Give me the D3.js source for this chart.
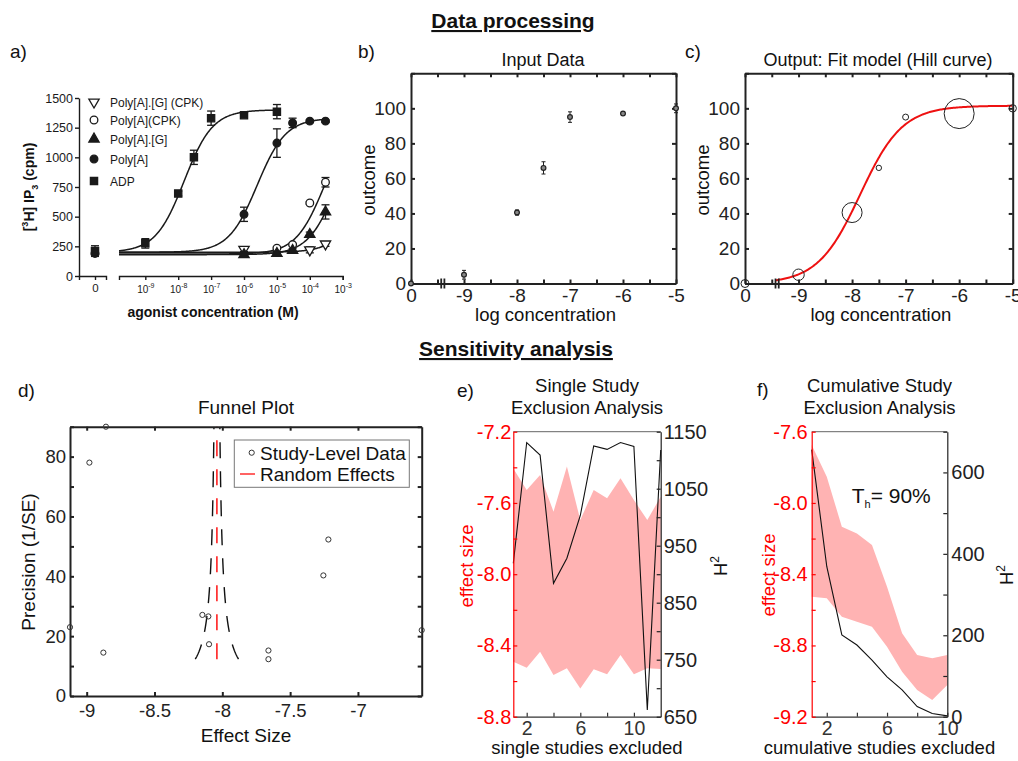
<!DOCTYPE html>
<html>
<head>
<meta charset="utf-8">
<script src="https://cdn.jsdelivr.net/npm/d3@7"></script>
<style>
  body { margin: 0; background: #fff; }
  text { font-family: "Liberation Sans", Arial, Helvetica, sans-serif; }
</style>
</head>
<body>
<svg id="fig" width="1018" height="761"></svg>
<script>
// ---------- panel a: [3H] IP3 (cpm) vs agonist concentration ----------
var adpConc = [0, 1e-9, 1e-8, 3e-8, 1e-7, 1e-6, 1e-5];
var adpCpm = [210, 275, 695, 1000, 1330, 1355, 1385];
var adpErr = [45, 40, 20, 60, 60, 15, 60];
var polyAConc = [0, 1e-6, 1e-5, 3e-5, 1e-4, 3e-4];
var polyACpm = [190, 520, 1120, 1290, 1305, 1305];
var polyAErr = [0, 60, 120, 40, 10, 10];
var polyAGConc = [1e-6, 1e-5, 3e-5, 1e-4, 3e-4];
var polyAGCpm = [180, 190, 215, 350, 540];
var polyAGErr = [15, 15, 15, 20, 60];
var polyACpkConc = [1e-5, 3e-5, 1e-4, 3e-4];
var polyACpkCpm = [235, 265, 615, 790];
var polyACpkErr = [10, 10, 10, 40];
var polyAGCpkConc = [1e-6, 1e-4, 3e-4];
var polyAGCpkCpm = [225, 220, 270];
var polyAGCpkErr = [20, 25, 20];
var aLegend = ["Poly[A].[G] (CPK)", "Poly[A](CPK)", "Poly[A].[G]", "Poly[A]", "ADP"];
// fitted Hill curves: bottom, top, logEC50, last log conc
var aCurveBottom = [200, 185, 180, 200, 200];
var aCurveTop = [1330, 1330, 1330, 1330, 1400];
var aCurveLogEC50 = [-2.27, -3.56, -3.18, -5.6, -7.82];
var aCurveEnd = [-3.52, -3.52, -3.52, -3.52, -5];
var aYTicks = [0, 250, 500, 750, 1000, 1250, 1500];
var aXTicks = [1e-9, 1e-8, 1e-7, 1e-6, 1e-5, 1e-4, 1e-3];

// ---------- panels b, c: input data and Hill fit ----------
var logConc = [0, -9, -8, -7.5, -7, -6, -5];   // 0 = zero concentration
var outcome = [0, 5, 40.5, 66, 95, 97, 100];
var outcomeErr = [0.8, 2.5, 1.5, 3.5, 3, 1, 2.5];
var fitRadius = [4, 5.7, 10, 2.7, 3, 15, 3.7];   // circle size = study weight
var hillTop = 101.5, hillLogEC50 = -7.85, hillSlope = 1.1;
var bcXTicks = [-10, -9.5, -9, -8.5, -8, -7.5, -7, -6.5, -6, -5.5, -5];
var bcYTicks = [0, 20, 40, 60, 80, 100, 120];

// ---------- panel d: funnel plot ----------
var dEffect = [-8.858, -8.98, -9.123, -8.877, -8.147, -8.103, -8.098, -7.66, -7.66, -7.255, -7.218, -6.53];
var dPrecision = [90, 78, 23, 14.5, 27.1, 26.6, 17.3, 15.2, 12.3, 40.3, 52.3, 22];
var randomEffect = -8.04;
var funnelPrecision = [12.3, 90];
var dXTicks = [-9, -8.5, -8, -7.5, -7];
var dYTicks = [0, 10, 20, 30, 40, 50, 60, 70, 80, 90];

// ---------- panel e: single study exclusion ----------
var eExcluded = [1, 2, 3, 4, 5, 6, 7, 8, 9, 10, 11, 12];
var eUpper = [-7.406, -7.527, -7.443, -7.649, -7.396, -7.696, -7.527, -7.574, -7.462, -7.584, -7.696, -7.565];
var eLower = [-8.491, -8.525, -8.435, -8.566, -8.528, -8.641, -8.534, -8.562, -8.454, -8.562, -8.528, -8.532];
var eH2 = [919, 1131, 1109, 884, 928, 1003, 1125, 1119, 1131, 1124, 662, 1118];
var eLeftTicks = [-8.8, -8.6, -8.4, -8.2, -8.0, -7.8, -7.6, -7.4, -7.2];
var eRightTicks = [650, 700, 750, 800, 850, 900, 950, 1000, 1050, 1100, 1150];

// ---------- panel f: cumulative study exclusion ----------
var fExcluded = [1, 2, 3, 4, 5, 6, 7, 8, 9, 10];
var fUpper = [-7.675, -7.853, -8.133, -8.171, -8.236, -8.47, -8.732, -8.854, -8.872, -8.854];
var fLower = [-8.526, -8.535, -8.639, -8.667, -8.695, -8.807, -8.947, -9.05, -9.106, -9.022];
var fH2 = [656, 369, 201, 176, 139, 98, 66, 25, 8, 2];
var fLeftTicks = [-9.2, -9.0, -8.8, -8.6, -8.4, -8.2, -8.0, -7.8, -7.6];
var fRightTicks = [0, 100, 200, 300, 400, 500, 600, 700];
var xTicksEF = [2, 4, 6, 8, 10];

var svg = d3.select("#fig");
var pink = "rgb(255,179,179)";

function hill(l, bottom, top, ec50, slope) {
  return bottom + (top - bottom) / (1 + Math.pow(10, slope * (ec50 - l)));
}

function styleAxis(g, color, size, width) {
  g.attr("font-size", size).attr("font-family", null);
  g.selectAll("path, line").attr("stroke", color).attr("stroke-width", width);
  g.selectAll("text").attr("fill", color);
  return g;
}

function label(x, y, str, size, opts) {
  opts = opts || {};
  var t = svg.append("text")
    .attr("x", x).attr("y", y)
    .attr("font-size", size)
    .attr("text-anchor", opts.anchor || "start")
    .attr("fill", opts.color || "#111")
    .attr("font-weight", opts.bold ? "bold" : null)
    .text(str);
  if (opts.rotate) {
    t.attr("x", 0).attr("y", 0).attr("transform", "translate(" + x + "," + y + ") rotate(-90)");
  }
  return t;
}

// headings
label(513, 28, "Data processing", 21, { anchor: "middle", bold: true }).style("text-decoration", "underline");
label(516, 356, "Sensitivity analysis", 21, { anchor: "middle", bold: true }).style("text-decoration", "underline");

// panel letters
label(10, 58, "a)", 19);
label(358, 58, "b)", 19);
label(685, 58, "c)", 19);
label(18, 397, "d)", 19);
label(457, 397, "e)", 19);
label(757, 396, "f)", 19);

// ================= panel a =================
(function () {
  var y = d3.scaleLinear().domain([0, 1500]).range([276, 98]);
  var x = d3.scaleLog().domain([Math.pow(10, -9.8), 1e-3]).range([119, 342.7]);
  var xZero = d3.scaleLinear().domain([-16, 11]).range([79, 106]);
  var pos = function (c) { return c === 0 ? xZero(0) : x(c); };
  var ink = "#1a1a1a";

  styleAxis(svg.append("g").attr("transform", "translate(79,0)")
    .call(d3.axisLeft(y).tickValues(aYTicks).tickFormat(String).tickSize(4).tickSizeOuter(0).tickPadding(2)), ink, 12.5, 1.4);

  styleAxis(svg.append("g").attr("transform", "translate(0,276)")
    .call(d3.axisBottom(xZero).tickValues([0]).tickFormat(String).tickSize(4).tickSizeOuter(4).tickPadding(4)), ink, 11.5, 1.4);

  var gx = svg.append("g").attr("transform", "translate(0,276)")
    .call(d3.axisBottom(x).tickValues(aXTicks).tickSize(4).tickSizeOuter(4).tickFormat(function () { return ""; }));
  gx.selectAll(".tick").each(function (d) {
    var t = d3.select(this).append("text").attr("y", 17).attr("text-anchor", "middle");
    t.append("tspan").attr("font-size", 10).text("10");
    t.append("tspan").attr("font-size", 7).attr("dy", -5).text(Math.round(Math.log10(d)));
  });
  styleAxis(gx, ink, 10, 1.4);

  label(213, 317, "agonist concentration (M)", 14, { anchor: "middle", bold: true });
  var yl = label(34, 187, "", 14, { anchor: "middle", bold: true, rotate: true });
  yl.append("tspan").text("[");
  yl.append("tspan").attr("font-size", 9).attr("dy", -6).text("3");
  yl.append("tspan").attr("dy", 6).text("H] IP");
  yl.append("tspan").attr("font-size", 9).attr("dy", 4).text("3");
  yl.append("tspan").attr("dy", -4).text(" (cpm)");

  // fitted curves
  var line = d3.line().x(function (d) { return x(d[0]); }).y(function (d) { return y(d[1]); });
  aCurveEnd.forEach(function (end, i) {
    var pts = d3.range(-9.8, end + 0.001, 0.02).map(function (l) {
      return [Math.pow(10, l), hill(l, aCurveBottom[i], aCurveTop[i], aCurveLogEC50[i], 1)];
    });
    svg.append("path").datum(pts).attr("d", line)
      .attr("fill", "none").attr("stroke", ink).attr("stroke-width", 1.5);
  });

  var series = [
    { conc: polyAGCpkConc, cpm: polyAGCpkCpm, err: polyAGCpkErr, sym: d3.symbolTriangle, rot: 180, fill: "#fff" },
    { conc: polyACpkConc, cpm: polyACpkCpm, err: polyACpkErr, sym: d3.symbolCircle, rot: 0, fill: "#fff" },
    { conc: polyAGConc, cpm: polyAGCpm, err: polyAGErr, sym: d3.symbolTriangle, rot: 0, fill: ink },
    { conc: polyAConc, cpm: polyACpm, err: polyAErr, sym: d3.symbolCircle, rot: 0, fill: ink },
    { conc: adpConc, cpm: adpCpm, err: adpErr, sym: d3.symbolSquare, rot: 0, fill: ink }
  ];
  var legendY = [102, 120, 139, 159, 181];
  series.forEach(function (s, i) {
    var g = svg.append("g");
    s.conc.forEach(function (c, j) {
      var cx = pos(c), e = s.err[j];
      if (e > 0) {
        g.append("line").attr("x1", cx).attr("x2", cx).attr("y1", y(s.cpm[j] - e)).attr("y2", y(s.cpm[j] + e))
          .attr("stroke", ink).attr("stroke-width", 1.3);
        [s.cpm[j] - e, s.cpm[j] + e].forEach(function (v) {
          g.append("line").attr("x1", cx - 4).attr("x2", cx + 4).attr("y1", y(v)).attr("y2", y(v))
            .attr("stroke", ink).attr("stroke-width", 1.3);
        });
      }
    });
    var sym = d3.symbol().type(s.sym).size(s.sym === d3.symbolSquare ? 52 : 46);
    g.selectAll("path.m").data(s.conc).enter().append("path")
      .attr("d", sym)
      .attr("transform", function (c, j) { return "translate(" + pos(c) + "," + y(s.cpm[j]) + ") rotate(" + s.rot + ")"; })
      .attr("fill", s.fill).attr("stroke", ink).attr("stroke-width", 1.3);
    // legend entry
    svg.append("path").attr("d", sym)
      .attr("transform", "translate(94," + legendY[i] + ") rotate(" + s.rot + ")")
      .attr("fill", s.fill).attr("stroke", ink).attr("stroke-width", 1.3);
    label(110, legendY[i] + 4.5, aLegend[i], 12, { color: ink });
  });
})();

// ================= panels b and c =================
function dosePanel(left, right, title, titleX, fit) {
  var x = d3.scaleLinear().domain([-10, -5]).range([left, right]);
  var y = d3.scaleLinear().domain([0, 120]).range([283.5, 73.3]);
  var px = function (l) { return l === 0 ? x(-10) : x(l); };
  var fmtX = function (d) { return Number.isInteger(d) ? (d === -10 ? "0" : String(d)) : ""; };
  var fmtY = function (d) { return d === 120 ? "" : String(d); };

  if (fit) {
    var pts = d3.range(-9.43, -4.999, 0.02).map(function (l) { return [l, hill(l, 0, hillTop, hillLogEC50, hillSlope)]; });
    svg.append("path").datum(pts)
      .attr("d", d3.line().x(function (d) { return x(d[0]); }).y(function (d) { return y(d[1]); }))
      .attr("fill", "none").attr("stroke", "#ee1111").attr("stroke-width", 2);
  }

  var ax = [
    [d3.axisBottom(x).tickValues(bcXTicks).tickFormat(fmtX).tickPadding(5), "translate(0," + y(0) + ")"],
    [d3.axisTop(x).tickValues(bcXTicks).tickFormat(""), "translate(0," + y(120) + ")"],
    [d3.axisLeft(y).tickValues(bcYTicks).tickFormat(fmtY).tickPadding(5), "translate(" + left + ",0)"],
    [d3.axisRight(y).tickValues(bcYTicks).tickFormat(""), "translate(" + right + ",0)"]
  ];
  ax.forEach(function (a) {
    var g = svg.append("g").attr("transform", a[1]).call(a[0].tickSize(-4).tickSizeOuter(0));
    styleAxis(g, "#222", 19, 2);
  });

  // axis break marks
  [-9.43, -9.37].forEach(function (l) {
    svg.append("line").attr("x1", x(l)).attr("x2", x(l)).attr("y1", y(0) - 5).attr("y2", y(0) + 5)
      .attr("stroke", "#222").attr("stroke-width", 1.8);
  });

  if (fit) {
    svg.selectAll(null).data(logConc).enter().append("circle")
      .attr("cx", px).attr("cy", function (d, i) { return y(outcome[i]); })
      .attr("r", function (d, i) { return fitRadius[i]; })
      .attr("fill", "none").attr("stroke", "#222").attr("stroke-width", 1);
  } else {
    logConc.forEach(function (l, i) {
      var cx = px(l);
      var r = [outcome[i] - outcomeErr[i], outcome[i] + outcomeErr[i]];
      svg.append("line").attr("x1", cx).attr("x2", cx).attr("y1", y(r[0])).attr("y2", y(r[1]))
        .attr("stroke", "#222").attr("stroke-width", 1);
      r.forEach(function (v) {
        svg.append("line").attr("x1", cx - 2).attr("x2", cx + 2).attr("y1", y(v)).attr("y2", y(v))
          .attr("stroke", "#222").attr("stroke-width", 1);
      });
      svg.append("circle").attr("cx", cx).attr("cy", y(outcome[i])).attr("r", 2.4)
        .attr("fill", "#888").attr("stroke", "#222").attr("stroke-width", 1.2);
    });
  }

  label(titleX, 66, title, 18, { anchor: "middle" });
  label((left + right) / 2 + 2, 321, "log concentration", 18.5, { anchor: "middle" });
  label(left - 36, 180, "outcome", 18.5, { anchor: "middle", rotate: true });
}
dosePanel(411, 676, "Input Data", 543, false);
dosePanel(745, 1012.7, "Output: Fit model (Hill curve)", 878, true);

// ================= panel d =================
(function () {
  var x = d3.scaleLinear().domain([-9.123, -6.53]).range([70, 421.7]);
  var y = d3.scaleLinear().domain([0, 90]).range([696, 426.7]);
  var fmtY = function (d) { return d % 20 === 0 && d < 90 ? String(d) : ""; };

  // funnel limits and pooled estimate (dashed)
  var pLevels = d3.range(funnelPrecision[0], funnelPrecision[1] + 0.01, 0.5);
  var fl = d3.line().x(function (d) { return x(d[0]); }).y(function (d) { return y(d[1]); });
  [-1.96, 1.96].forEach(function (z) {
    svg.append("path").datum(pLevels.map(function (p) { return [randomEffect + z / p, p]; }))
      .attr("d", fl).attr("fill", "none").attr("stroke", "#111").attr("stroke-width", 1.4)
      .attr("stroke-dasharray", "16,13");
  });
  svg.append("path").datum([[randomEffect, funnelPrecision[0]], [randomEffect, funnelPrecision[1]]])
    .attr("d", fl).attr("stroke", "#ff2020").attr("stroke-width", 1.6).attr("stroke-dasharray", "16,13");

  var ax = [
    [d3.axisBottom(x).tickValues(dXTicks).tickFormat(String).tickPadding(8), "translate(0,696)"],
    [d3.axisTop(x).tickValues(dXTicks).tickFormat(""), "translate(0,426.7)"],
    [d3.axisLeft(y).tickValues(dYTicks).tickFormat(fmtY).tickPadding(4), "translate(70,0)"],
    [d3.axisRight(y).tickValues(dYTicks).tickFormat(""), "translate(421.7,0)"]
  ];
  ax.forEach(function (a) {
    var g = svg.append("g").attr("transform", a[1]).call(a[0].tickSize(-4).tickSizeOuter(0));
    styleAxis(g, "#222", 18.5, 2);
  });

  svg.selectAll(null).data(dEffect).enter().append("circle")
    .attr("cx", function (d) { return x(d); })
    .attr("cy", function (d, i) { return y(dPrecision[i]); })
    .attr("r", 2.6).attr("fill", "none").attr("stroke", "#333").attr("stroke-width", 1);

  // legend
  svg.append("rect").attr("x", 234.3).attr("y", 440).attr("width", 175).attr("height", 47.3)
    .attr("fill", "#fff").attr("stroke", "#777").attr("stroke-width", 1);
  svg.append("circle").attr("cx", 251.7).attr("cy", 452.7).attr("r", 2.6)
    .attr("fill", "none").attr("stroke", "#333");
  label(260, 459.5, "Study-Level Data", 19);
  svg.append("line").attr("x1", 240).attr("x2", 255).attr("y1", 474).attr("y2", 474)
    .attr("stroke", "#ff2020").attr("stroke-width", 1.4);
  label(260, 481, "Random Effects", 19);

  label(246, 414, "Funnel Plot", 19, { anchor: "middle" });
  label(246, 742, "Effect Size", 19, { anchor: "middle" });
  label(35, 562, "Precision (1/SE)", 19, { anchor: "middle", rotate: true });
})();

// ================= panels e and f =================
function exclusionPanel(o) {
  var x = d3.scaleLinear().domain(o.xDomain).range([o.left, o.right]);
  var yl = d3.scaleLinear().domain(o.leftDomain).range([716.7, 431.7]);
  var yr = d3.scaleLinear().domain(o.rightDomain).range([716.7, 431.7]);

  svg.append("path").datum(o.excluded)
    .attr("d", d3.area().x(function (d) { return x(d); })
      .y0(function (d, i) { return yl(o.lower[i]); })
      .y1(function (d, i) { return yl(o.upper[i]); }))
    .attr("fill", pink);
  svg.append("path").datum(o.excluded)
    .attr("d", d3.line().x(function (d) { return x(d); }).y(function (d, i) { return yr(o.h2[i]); }))
    .attr("fill", "none").attr("stroke", "#111").attr("stroke-width", 1.1);

  var even = function (f) { return function (d, i) { return i % 2 === 0 ? f(d) : ""; }; };
  var gb = svg.append("g").attr("transform", "translate(0,716.7)")
    .call(d3.axisBottom(x).tickValues(xTicksEF).tickFormat(even(String)).tickSize(-4).tickSizeOuter(0).tickPadding(4));
  styleAxis(gb, "#333", 19.5, 1.2);
  svg.append("line").attr("x1", o.left).attr("x2", o.right).attr("y1", 431.7).attr("y2", 431.7)
    .attr("stroke", "#666").attr("stroke-width", 1);
  var gr = svg.append("g").attr("transform", "translate(" + o.right + ",0)")
    .call(d3.axisRight(yr).tickValues(o.rightTicks).tickFormat(even(String)).tickSize(-4).tickSizeOuter(0).tickPadding(o.rightPad));
  styleAxis(gr, "#222", 20, 1.2);
  var gl = svg.append("g").attr("transform", "translate(" + o.left + ",0)")
    .call(d3.axisLeft(yl).tickValues(o.leftTicks).tickFormat(even(function (d) { return d.toFixed(1); })).tickSize(-4).tickSizeOuter(0).tickPadding(o.leftPad));
  styleAxis(gl, "#ff0000", 20, 1.2);

  var cx = (o.left + o.right) / 2;
  label(cx, 392, o.title[0], 18.5, { anchor: "middle" });
  label(cx, 413.5, o.title[1], 18.5, { anchor: "middle" });
  label(cx, 754, o.xLabel, 18.5, { anchor: "middle" });
  label(o.effectX, o.labelY, "effect size", 18.5, { anchor: "middle", rotate: true, color: "#ff0000" });
  var h = label(o.h2X, o.labelY, "H", 18.5, { anchor: "middle", rotate: true });
  h.append("tspan").attr("font-size", 12).attr("dy", -8).text("2");
}

exclusionPanel({
  left: 513.3, right: 660.7, xDomain: [1, 12], leftDomain: [-8.8, -7.2], rightDomain: [650, 1150],
  excluded: eExcluded, upper: eUpper, lower: eLower, h2: eH2,
  leftTicks: eLeftTicks, rightTicks: eRightTicks, leftPad: 2, rightPad: 3,
  title: ["Single Study", "Exclusion Analysis"], xLabel: "single studies excluded",
  effectX: 473, h2X: 727, labelY: 566
});
exclusionPanel({
  left: 811.7, right: 947.3, xDomain: [1, 10], leftDomain: [-9.2, -7.6], rightDomain: [0, 700],
  excluded: fExcluded, upper: fUpper, lower: fLower, h2: fH2,
  leftTicks: fLeftTicks, rightTicks: fRightTicks, leftPad: 4, rightPad: 4,
  title: ["Cumulative Study", "Exclusion Analysis"], xLabel: "cumulative studies excluded",
  effectX: 775, h2X: 1013, labelY: 575
});

// heterogeneity threshold note in panel f
var th = label(851.7, 503, "T", 21);
th.append("tspan").attr("font-size", 11).attr("dy", 5).text("h");
th.append("tspan").attr("dy", -5).text("= 90%");
</script>
</body>
</html>
